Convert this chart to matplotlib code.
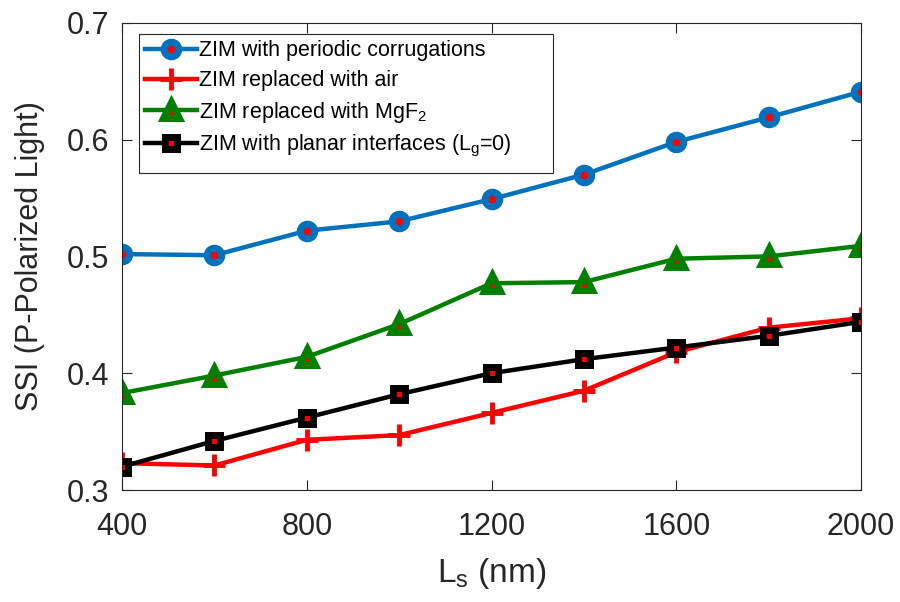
import numpy as np
import matplotlib
matplotlib.use("Agg")
import matplotlib.pyplot as plt
from matplotlib.patches import Rectangle

plt.rcParams['font.family'] = ['Liberation Sans', 'DejaVu Sans']
plt.rcParams['mathtext.fontset'] = 'custom'
plt.rcParams['mathtext.rm'] = 'Liberation Sans'
plt.rcParams['mathtext.it'] = 'Liberation Sans:italic'

# Длина L_s, нм
ls_nm = [400, 600, 800, 1000, 1200, 1400, 1600, 1800, 2000]

# SSI для разных структур
ssi_corrugated = [0.502, 0.501, 0.522, 0.530, 0.549, 0.570, 0.598, 0.619, 0.641]
ssi_air = [0.323, 0.321, 0.343, 0.347, 0.366, 0.385, 0.418, 0.439, 0.447]
ssi_mgf2 = [0.383, 0.398, 0.414, 0.442, 0.477, 0.478, 0.498, 0.500, 0.509]
ssi_planar = [0.320, 0.342, 0.362, 0.382, 0.400, 0.412, 0.422, 0.432, 0.444]

labels = ['ZIM with periodic corrugations',
          'ZIM replaced with air',
          r'ZIM replaced with MgF$_{\mathrm{2}}$',
          r'ZIM with planar interfaces (L$_{\mathrm{g}}$=0)']

fig = plt.figure(figsize=(9, 6.02), dpi=100)
ax = fig.add_axes([0.1356, 0.186, 0.8211, 0.7762])

ax.plot(ls_nm, ssi_corrugated, '-o', color='#0072BD', lw=3.2, ms=10.5, mew=5,
        mec='#0072BD', mfc='red', label=labels[0])
ax.plot(ls_nm, ssi_air, '-+', color='red', lw=3.2, ms=16, mew=3.5,
        label=labels[1])
ax.plot(ls_nm, ssi_mgf2, '-^', color='#007F00', lw=3.2, ms=11, mew=5,
        mec='#007F00', mfc='red', label=labels[2])
ax.plot(ls_nm, ssi_planar, '-s', color='black', lw=3.2, ms=9, mew=5,
        mec='black', mfc='red', label=labels[3])

# Масштабы и деления
ax.set_xlim(400, 2000)
ax.set_ylim(0.3, 0.7)
ax.set_xticks([400, 800, 1200, 1600, 2000])
ax.set_yticks([0.3, 0.4, 0.5, 0.6, 0.7])
ax.tick_params(direction='in', top=True, right=True, length=7, width=0.8,
               colors='#262626', labelsize=22)
ax.tick_params(axis='x', pad=16)
ax.tick_params(axis='y', pad=9)
for sp in ax.spines.values():
    sp.set_color('#262626')
    sp.set_linewidth(0.8)

# Подписи осей
ax.set_xlabel('L$_{\\mathrm{s}}$ (nm)', fontsize=24, color='#262626', labelpad=10)
ax.set_ylabel('SSI (P-Polarized Light)', fontsize=22, color='#262626', labelpad=16)

# Легенда: рамка рисуется отдельно, шире текста
leg = ax.legend(loc='upper left', bbox_to_anchor=(0.023, 0.976),
                borderaxespad=0, fontsize=15.5, handlelength=2.4,
                handletextpad=0.1, labelspacing=0.4, borderpad=0.3,
                frameon=False)
ax.add_patch(Rectangle((0.023, 0.679), 0.560, 0.297, transform=ax.transAxes,
                       facecolor='white', edgecolor='#262626', lw=0.8,
                       zorder=4.9))
leg.set_zorder(5)

fig.savefig("out.png", dpi=100)
